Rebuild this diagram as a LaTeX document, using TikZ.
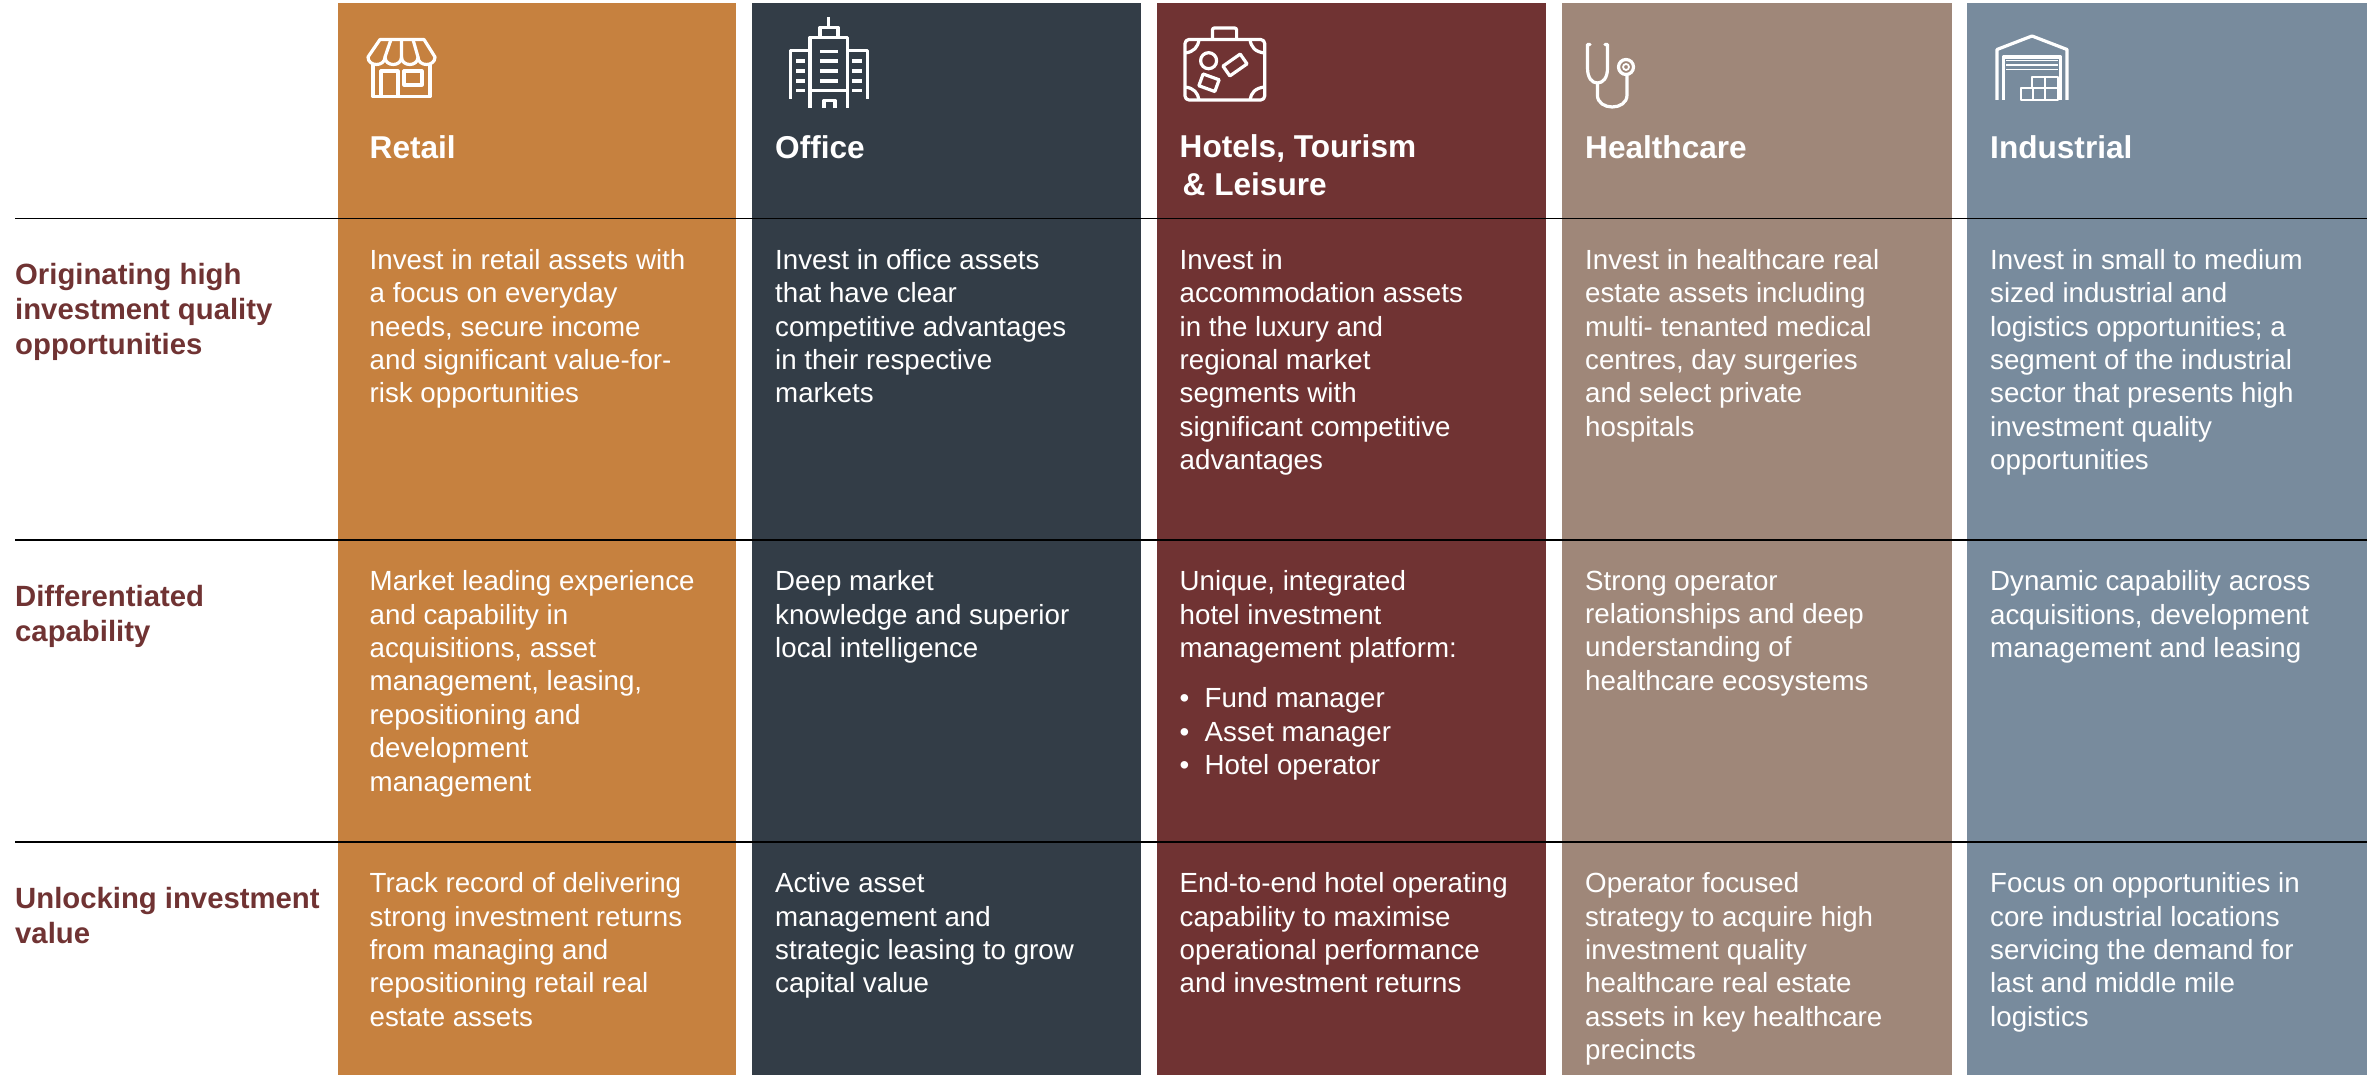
\documentclass[tikz,border=0pt]{standalone}
\usepackage{fontspec}
\setmainfont{Liberation Sans}
\usetikzlibrary{positioning}

\definecolor{retailcol}{HTML}{C6813F}
\definecolor{officecol}{HTML}{333D47}
\definecolor{hotelscol}{HTML}{703333}
\definecolor{healthcol}{HTML}{9F8779}
\definecolor{industrycol}{HTML}{788B9D}

\tikzset{
  column/.style={anchor=north west,inner sep=0pt,minimum height=1072pt},
  heading/.style={anchor=north west,inner sep=0pt,align=left,text=white,
    font=\fontsize{31.6}{38}\selectfont\bfseries,execute at begin node={\strut}},
  celltext/.style={anchor=north west,inner sep=0pt,align=left,text=white,
    font=\fontsize{27.7}{33.4}\selectfont,execute at begin node={\strut}},
  rowlabel/.style={anchor=north west,inner sep=0pt,align=left,text=hotelscol,
    font=\fontsize{29.3}{35}\selectfont\bfseries,execute at begin node={\strut}},
  rowline/.style={draw=black,line width=1.6pt},
  icon/.style={draw=white,line width=3.2pt,line join=round}
}

\begin{document}
\begin{tikzpicture}[x=1pt,y=-1pt]

  \useasboundingbox (0,0) rectangle (2367,1075);

  % columns
  \node[column,fill=retailcol,minimum width=398pt] (Retail) at (338,3) {};
  \node[column,fill=officecol,minimum width=389pt] (Office) at (752,3) {};
  \node[column,fill=hotelscol,minimum width=389pt] (Hotels) at (1157,3) {};
  \node[column,fill=healthcol,minimum width=390pt] (Health) at (1562,3) {};
  \node[column,fill=industrycol,minimum width=400pt] (Industry) at (1967,3) {};

  % rules
  \coordinate (ruleAs) at (15,218.5);
  \coordinate (ruleAe) at (2367,218.5);
  \coordinate (ruleBs) at (15,540);
  \coordinate (ruleBe) at (2367,540);
  \coordinate (ruleCs) at (15,842);
  \coordinate (ruleCe) at (2367,842);
  \draw[rowline] (ruleAs) -- (ruleAe);
  \draw[rowline] (ruleBs) -- (ruleBe);
  \draw[rowline] (ruleCs) -- (ruleCe);

  % row labels
  \node[rowlabel] (rowA) at (15,263.5) {Originating high\\investment quality\\opportunities};
  \node[rowlabel] (rowB) at (15,585) {Differentiated\\capability};
  \node[rowlabel] (rowC) at (15,887) {Unlocking investment\\value};

  % headings
  \node[heading] (headRetail) at (369.5,132) {Retail};
  \node[heading] (headOffice) at (775,132) {Office};
  \node[heading] (headHotels) at (1179.5,134.5) {Hotels, Tourism\\\hspace*{3pt}\& Leisure};
  \node[heading] (headHealth) at (1585,132) {Healthcare};
  \node[heading] (headIndustry) at (1990,132) {Industrial};

  % first row
  \node[celltext] (retailA) at (369.5,249) {Invest in retail assets with\\a focus on everyday\\needs, secure income\\and significant value-for-\\risk opportunities};
  \node[celltext] (officeA) at (775,249) {Invest in office assets\\that have clear\\competitive advantages\\in their respective\\markets};
  \node[celltext] (hotelsA) at (1179.5,249) {Invest in\\accommodation assets\\in the luxury and\\regional market\\segments with\\significant competitive\\advantages};
  \node[celltext] (healthA) at (1585,249) {Invest in healthcare real\\estate assets including\\multi- tenanted medical\\centres, day surgeries\\and select private\\hospitals};
  \node[celltext] (industryA) at (1990,249) {Invest in small to medium\\sized industrial and\\logistics opportunities; a\\segment of the industrial\\sector that presents high\\investment quality\\opportunities};

  % second row
  \node[celltext] (retailB) at (369.5,570.5) {Market leading experience\\and capability in\\acquisitions, asset\\management, leasing,\\repositioning and\\development\\management};
  \node[celltext] (officeB) at (775,570.5) {Deep market\\knowledge and superior\\local intelligence};
  \node[celltext] (hotelsB) at (1179.5,570.5) {Unique, integrated\\hotel investment\\management platform:\\[17pt]\makebox[25pt][l]{•}Fund manager\\\makebox[25pt][l]{•}Asset manager\\\makebox[25pt][l]{•}Hotel operator};
  \node[celltext] (healthB) at (1585,570.5) {Strong operator\\relationships and deep\\understanding of\\healthcare ecosystems};
  \node[celltext] (industryB) at (1990,570.5) {Dynamic capability across\\acquisitions, development\\management and leasing};

  % third row
  \node[celltext] (retailC) at (369.5,872.5) {Track record of delivering\\strong investment returns\\from managing and\\repositioning retail real\\estate assets};
  \node[celltext] (officeC) at (775,872.5) {Active asset\\management and\\strategic leasing to grow\\capital value};
  \node[celltext] (hotelsC) at (1179.5,872.5) {End-to-end hotel operating\\capability to maximise\\operational performance\\and investment returns};
  \node[celltext] (healthC) at (1585,872.5) {Operator focused\\strategy to acquire high\\investment quality\\healthcare real estate\\assets in key healthcare\\precincts};
  \node[celltext] (industryC) at (1990,872.5) {Focus on opportunities in\\core industrial locations\\servicing the demand for\\last and middle mile\\logistics};

  % shop
  \draw[icon] (380,39.5) -- (424,39.5) -- (435,57)
    .. controls (435,67) and (418,67) .. (418,57)
    .. controls (418,67) and (401.5,67) .. (401.5,57)
    .. controls (401.5,67) and (385,67) .. (385,57)
    .. controls (385,67) and (368,67) .. (368,57) -- cycle;
  \draw[icon] (385,57) -- (391,39.5) (401.5,57) -- (401.5,39.5) (418,57) -- (413,39.5);
  \draw[icon] (373,64) -- (373,96.5) -- (430,96.5) -- (430,64);
  \draw[icon] (381,96.5) -- (381,71) -- (398,71) -- (398,96.5);
  \draw[icon] (404,71) rectangle (422,85);

  % office tower
  \draw[icon] (828.6,17) -- (828.6,27);
  \draw[icon] (820,37) -- (820,27.5) -- (838,27.5) -- (838,37);
  \draw[icon] (810,108) -- (810,37.5) -- (847.4,37.5) -- (847.4,108);
  \draw[icon] (810,90.7) -- (847.4,90.7);
  \draw[icon] (810,50.7) -- (790.4,50.7) -- (790.4,99);
  \draw[icon] (847.4,50.7) -- (867.7,50.7) -- (867.7,99);
  \foreach \yy in {51.7,61,71,81} \draw[icon] (820,\yy) -- (838,\yy);
  \foreach \yy in {61,71,81,90.7} \draw[icon] (796,\yy) -- (805,\yy) (852.4,\yy) -- (862,\yy);
  \draw[icon] (824,108) -- (824,100.5) -- (835,100.5) -- (835,108);

  % suitcase
  \draw[icon,rounded corners=4pt] (1185,39.5) rectangle (1264.7,100);
  \draw[icon,rounded corners=2pt] (1212.4,39) -- (1212.4,28) -- (1236.6,28) -- (1236.6,39);
  \draw[icon] (1185,53) .. controls (1194,52) and (1198,47) .. (1199,39.5);
  \draw[icon] (1264.7,53) .. controls (1255,52) and (1251,47) .. (1250,39.5);
  \draw[icon] (1185,87) .. controls (1194,88) and (1198,93) .. (1199,100);
  \draw[icon] (1264.7,87) .. controls (1255,88) and (1251,93) .. (1250,100);
  \draw[icon] (1208.6,60.7) circle (8pt);
  \draw[icon,rotate around={35:(1235,65)}] (1224.5,59) rectangle (1245.5,71);
  \draw[icon,rotate around={-20:(1209,82.7)}] (1200.5,76.5) rectangle (1217.5,89);

  % stethoscope
  \draw[icon,line cap=round] (1590,44.5) -- (1587.5,44.5) -- (1587.5,68)
    .. controls (1587.5,78) and (1592,83) .. (1597.4,83)
    .. controls (1603,83) and (1607.5,78) .. (1607.5,68) -- (1607.5,44.5) -- (1605,44.5);
  \draw[icon] (1597.4,83) -- (1597.4,95) .. controls (1597.4,111) and (1627,111) .. (1627,95) -- (1627,75);
  \draw[icon] (1626,67) circle (7.5pt);
  \draw[icon,line width=1.8pt] (1626,67) circle (3pt);

  % warehouse
  \draw[icon] (1997,100) -- (1997,49.5) -- (2032,36) -- (2067,49.5) -- (2067,100);
  \draw[icon] (2003.4,100) -- (2003.4,57) -- (2060.7,57) -- (2060.7,100);
  \foreach \yy in {60.5,65,69.5} \draw[icon,line width=1.8pt] (2006,\yy) -- (2058,\yy);
  \draw[icon,line width=2pt] (2032,88.3) -- (2032,76.7) -- (2058,76.7) -- (2058,100) -- (2020.5,100) -- (2020.5,88.3) -- (2058,88.3);
  \draw[icon,line width=2pt] (2045,76.7) -- (2045,100) (2033,88.3) -- (2033,100);

\end{tikzpicture}
\end{document}
